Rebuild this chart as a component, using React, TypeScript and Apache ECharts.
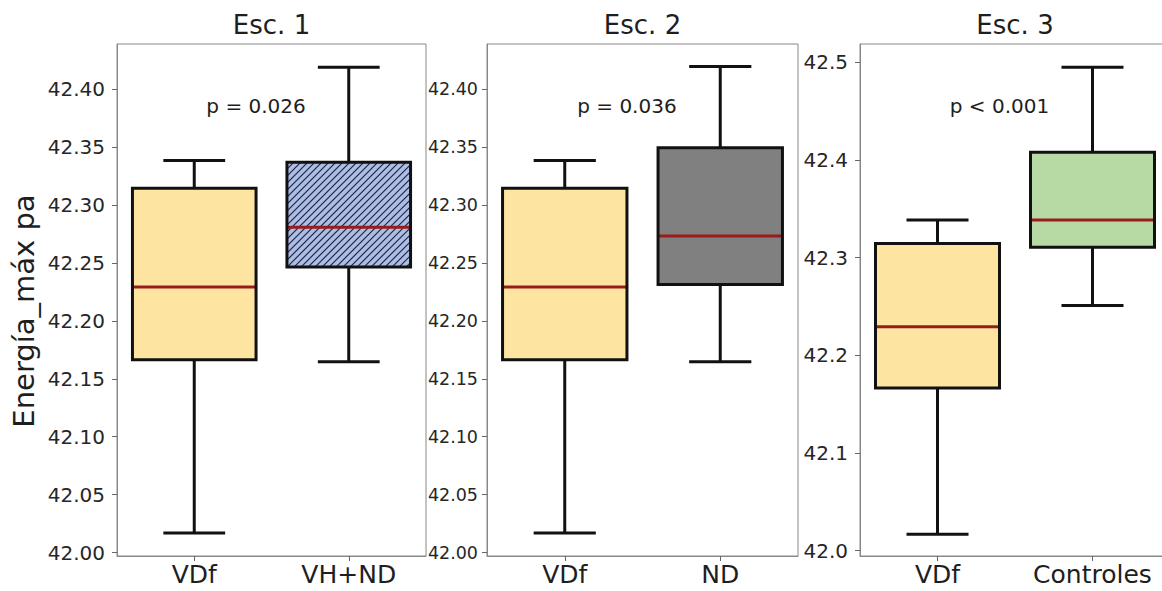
import React, { useEffect, useRef } from "react";
import * as echarts from "echarts";

// ---------- data ----------
const panelTitles = ["Esc. 1", "Esc. 2", "Esc. 3"];
const panelCategories = [
  ["VDf", "VH+ND"],
  ["VDf", "ND"],
  ["VDf", "Controles"],
];
const pValueLabels = ["p = 0.026", "p = 0.036", "p < 0.001"];
const yAxisTitle = "Energía_máx pa";

// [lower whisker, Q1, median, Q3, upper whisker]
const vdfStats = [42.0168, 42.1664, 42.2292, 42.3145, 42.3384];
const vhndStats = [42.1646, 42.2464, 42.2808, 42.337, 42.419];
const ndStats = [42.1646, 42.2313, 42.2733, 42.3494, 42.4195];
const controlesStats = [42.251, 42.3105, 42.3385, 42.4078, 42.495];

const panelStats = [
  [vdfStats, vhndStats],
  [vdfStats, ndStats],
  [vdfStats, controlesStats],
];

const yTicksEsc12 = [42.0, 42.05, 42.1, 42.15, 42.2, 42.25, 42.3, 42.35, 42.4];
const yTicksEsc3 = [42.0, 42.1, 42.2, 42.3, 42.4, 42.5];
const yTickDecimals = [2, 2, 1];
const yLimits = [
  [41.997, 42.439],
  [41.997, 42.439],
  [41.9945, 42.5187],
];

// ---------- styles ----------
const FONT = "DejaVu Sans";
const fills = [
  ["#fde4a1", "#aebde3"],
  ["#fde4a1", "#808080"],
  ["#fde4a1", "#b7d9a3"],
];
const hatched = [
  [false, true],
  [false, false],
  [false, false],
];
const grids: any[] = [
  { left: 117, top: 44, width: 309, height: 512 },
  { left: 487, top: 44, width: 311, height: 512 },
  { left: 860, top: 44, width: 310, height: 512 },
];
const tickFontSizes = [20, 17.5, 20];
const tickMargins = [12, 9, 12];

function makeRenderItem(panel: number) {
  return (params: any, api: any) => {
    const i = params.dataIndex;
    const x = api.value(0);
    const pLo = api.coord([x, api.value(1)]);
    const yQ1 = api.coord([x, api.value(2)])[1];
    const yMed = api.coord([x, api.value(3)])[1];
    const yQ3 = api.coord([x, api.value(4)])[1];
    const yHi = api.coord([x, api.value(5)])[1];
    const cx = pLo[0];
    const yLo = pLo[1];
    const band = api.size([1, 0])[0];
    const bw = band * 0.8;
    const capHalf = bw / 4;
    const x0 = cx - bw / 2;
    const x1 = cx + bw / 2;
    const black = "#111111";
    const lw = 3;
    const children: any[] = [
      { type: "line", shape: { x1: cx, y1: yQ1, x2: cx, y2: yLo }, style: { stroke: black, lineWidth: lw } },
      { type: "line", shape: { x1: cx, y1: yQ3, x2: cx, y2: yHi }, style: { stroke: black, lineWidth: lw } },
      { type: "line", shape: { x1: cx - capHalf, y1: yLo, x2: cx + capHalf, y2: yLo }, style: { stroke: black, lineWidth: lw } },
      { type: "line", shape: { x1: cx - capHalf, y1: yHi, x2: cx + capHalf, y2: yHi }, style: { stroke: black, lineWidth: lw } },
      { type: "rect", shape: { x: x0, y: yQ3, width: bw, height: yQ1 - yQ3 }, style: { fill: fills[panel][i], stroke: "none" } },
    ];
    if (hatched[panel][i]) {
      const step = 7;
      const top = yQ3;
      const bottom = yQ1;
      for (let c = x0 + top; c <= x1 + bottom; c += step) {
        const xa = Math.max(x0, c - bottom);
        const xb = Math.min(x1, c - top);
        if (xb > xa) {
          children.push({
            type: "line",
            shape: { x1: xa, y1: c - xa, x2: xb, y2: c - xb },
            style: { stroke: "#1e2848", lineWidth: 1.2 },
          });
        }
      }
    }
    children.push(
      { type: "line", shape: { x1: x0, y1: yMed, x2: x1, y2: yMed }, style: { stroke: "#9a1b1b", lineWidth: 3 } },
      { type: "rect", shape: { x: x0, y: yQ3, width: bw, height: yQ1 - yQ3 }, style: { fill: "none", stroke: black, lineWidth: lw } }
    );
    return { type: "group", children };
  };
}

export default function App() {
  const ref = useRef<HTMLDivElement>(null);
  useEffect(() => {
    document.body.style.margin = "0";
    if (!ref.current) return;
    const chart = echarts.init(ref.current, null, { renderer: "svg" });

    const xAxis = panelCategories.map((cats, k) => ({
      type: "category",
      gridIndex: k,
      data: cats,
      boundaryGap: true,
      axisLine: { show: true, lineStyle: { color: "#888", width: 1 } },
      axisTick: { show: true, alignWithLabel: true, interval: 0, length: 5, lineStyle: { color: "#666" } },
      axisLabel: { interval: 0, hideOverlap: false, fontSize: 25, margin: 6, color: "#1e1e1e", fontFamily: FONT },
      splitLine: { show: false },
    }));

    const yAxis = [0, 1, 2].map((k) => {
      const ticks = k === 2 ? yTicksEsc3 : yTicksEsc12;
      return {
        type: "value",
        gridIndex: k,
        min: yLimits[k][0],
        max: yLimits[k][1],
        axisLine: { show: true, lineStyle: { color: "#888", width: 1 } },
        axisTick: { show: true, length: 5, customValues: ticks, lineStyle: { color: "#666" } },
        axisLabel: {
          customValues: ticks,
          formatter: (v: number) => v.toFixed(yTickDecimals[k]),
          fontSize: tickFontSizes[k],
          margin: tickMargins[k],
          color: "#262626",
          fontFamily: FONT,
        },
        splitLine: { show: false },
      };
    });

    const series = panelStats.map((stats, k) => ({
      type: "custom",
      xAxisIndex: k,
      yAxisIndex: k,
      renderItem: makeRenderItem(k),
      encode: { x: 0, y: [1, 2, 3, 4, 5] },
      data: stats.map((s, i) => [i, ...s]),
      clip: false,
    }));

    const graphic: any[] = [];
    panelTitles.forEach((t, k) => {
      graphic.push({
        type: "text",
        x: grids[k].left + grids[k].width / 2,
        y: 25,
        style: { text: t, fontSize: 26, fontFamily: FONT, fill: "#1e1e1e", align: "center", verticalAlign: "middle" },
      });
      graphic.push({
        type: "text",
        x: grids[k].left + grids[k].width * 0.45,
        y: 106,
        style: { text: pValueLabels[k], fontSize: 20, fontFamily: FONT, fill: "#1e1e1e", align: "center", verticalAlign: "middle" },
      });
    });
    graphic.push({
      type: "text",
      x: 24,
      y: 311,
      rotation: Math.PI / 2,
      style: { text: yAxisTitle, fontSize: 29, fontFamily: FONT, fill: "#1e1e1e", align: "center", verticalAlign: "middle" },
    });

    chart.setOption({
      animation: false,
      backgroundColor: "#ffffff",
      grid: grids.map((g) => ({
        ...g,
        outerBoundsMode: "none",
        containLabel: false,
        show: true,
        borderColor: "#888",
        borderWidth: 1,
        backgroundColor: "transparent",
      })),
      xAxis,
      yAxis,
      series,
      graphic,
    });
    return () => chart.dispose();
  }, []);
  return <div ref={ref} style={{ width: 1162, height: 591 }} />;
}
